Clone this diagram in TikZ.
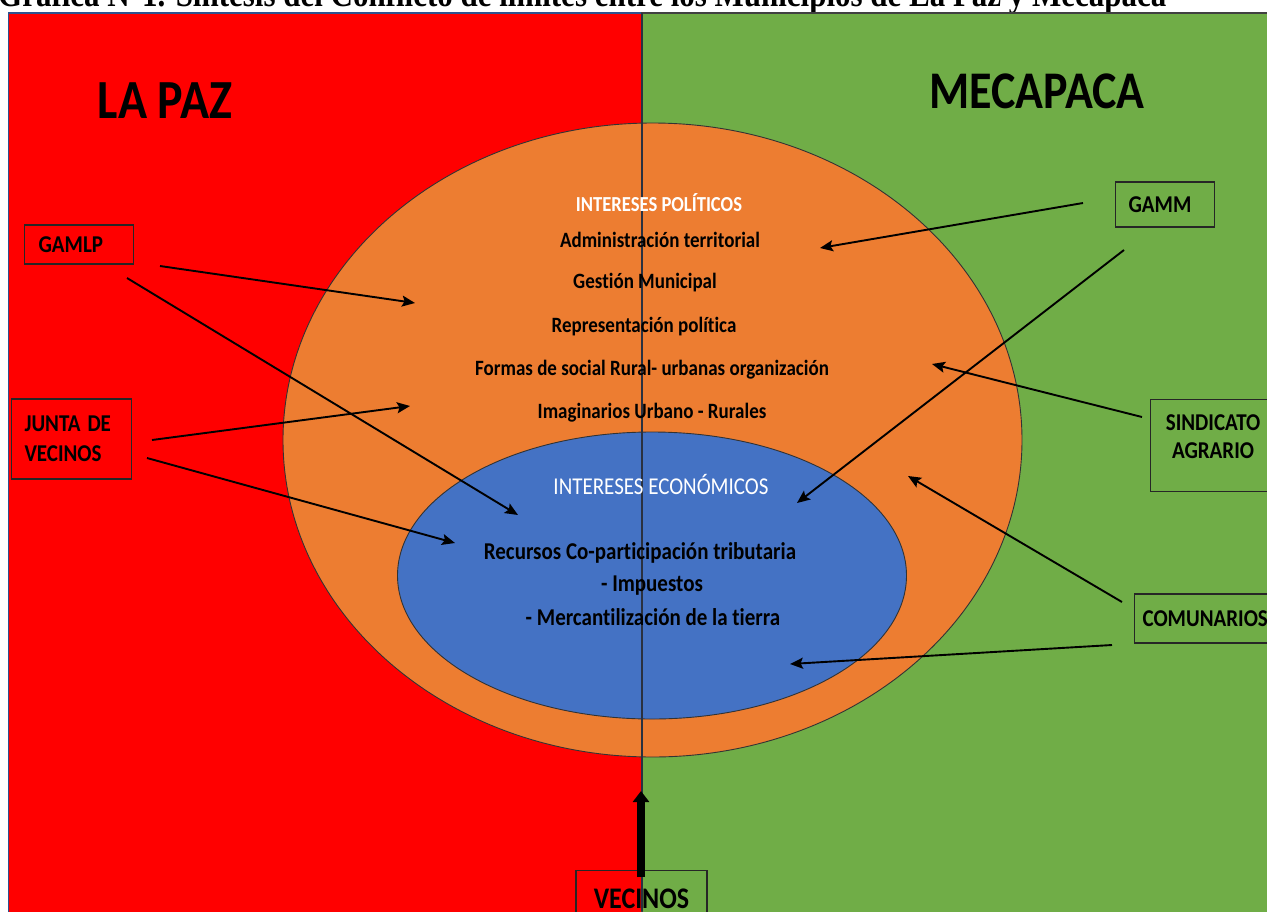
\documentclass[tikz,border=0pt]{standalone}
\usepackage{fontspec}
\setmainfont{Carlito}[Ligatures=NoCommon]
\newfontfamily\titlefont{Liberation Serif}
\usetikzlibrary{arrows.meta}
\definecolor{lpred}{HTML}{FF0000}
\definecolor{mcgreen}{HTML}{70AD47}
\definecolor{polorange}{HTML}{ED7D31}
\definecolor{ecoblue}{HTML}{4472C4}
\definecolor{edgeblue}{HTML}{2F528F}
\definecolor{darkline}{HTML}{2A3140}
\newcommand\vst[1]{\scalebox{1}[1.15]{#1}}
\tikzset{
  region/.style={line width=1.3pt},
  inner/.style={font=\bfseries\fontsize{19}{21}\selectfont, inner sep=0pt},
  innereco/.style={font=\bfseries\fontsize{21}{23}\selectfont, inner sep=0pt},
  innerhead/.style={text=white, inner sep=0pt},
  bigname/.style={font=\bfseries\fontsize{46}{50}\selectfont, inner sep=0pt},
  actor/.style={draw=black!85, line width=1.1pt, font=\bfseries\fontsize{21}{30}\selectfont, inner sep=0pt},
  arr/.style={line width=1.9pt, -{Stealth[length=13pt,width=11pt,inset=2.5pt]}},
  bigarr/.style={line width=8pt, -{Triangle[length=11pt,width=16pt]}}
}
\begin{document}
\begin{tikzpicture}[x=1pt,y=-1pt]
\useasboundingbox (0,0) rectangle (1267,911);
\clip (0,0) rectangle (1267,911);
\fill[white] (0,0) rectangle (1267,911);
% title (cut by the page top)
\node[anchor=base west, inner sep=0pt] (title) at (-2,6)
  {\resizebox{1168pt}{!}{\titlefont\bfseries\fontsize{26}{28}\selectfont\vst{Gráfica N°1. Síntesis del Conflicto de límites entre los Municipios de La Paz y Mecapaca}}};
% regions
\filldraw[region, fill=lpred, draw=edgeblue] (8.5,13) rectangle (642,930);
\filldraw[region, fill=mcgreen, draw=black!75] (642,13) rectangle (1280,930);
% ellipses
\filldraw[fill=polorange, draw=black!80, line width=0.9pt] (652.5,440) ellipse [x radius=369.5pt, y radius=317pt];
\filldraw[fill=ecoblue, draw=black!80, line width=0.9pt] (652,575.5) ellipse [x radius=254.5pt, y radius=143.5pt];
% dividing line
\draw[darkline, line width=1.2pt] (642,13) -- (642,911);
% region names
\node[bigname, font=\bfseries\fontsize{48}{50}\selectfont] (lapaz) at (165,101) {\vst{LA PAZ}};
\node[bigname] (mecapaca) at (1037,91) {\vst{MECAPACA}};
% political interests
\node[innerhead, font=\bfseries\fontsize{18.6}{20}\selectfont] (pol) at (659,203) {\vst{INTERESES POLÍTICOS}};
\node[inner] (t1) at (660,240) {\vst{Administración territorial}};
\node[inner] (t2) at (645,283) {\vst{Gestión Municipal}};
\node[inner] (t3) at (644,327) {\vst{Representación política}};
\node[inner] (t4) at (652,370) {\vst{Formas de social Rural- urbanas organización}};
\node[inner] (t5) at (652,413) {\vst{Imaginarios Urbano - Rurales}};
% economic interests
\node[innerhead, font=\fontsize{21}{23}\selectfont] (eco) at (661,484) {\vst{INTERESES ECONÓMICOS}};
\node[innereco] (e1) at (640,553) {\vst{Recursos Co-participación tributaria}};
\node[innereco] (e2) at (652,586) {\vst{- Impuestos}};
\node[innereco] (e3) at (653,617) {\vst{- Mercantilización de la tierra}};
% actors
\node[actor, anchor=west, minimum width=109pt, minimum height=39pt, text width=81pt, inner xsep=14pt, align=left] (gamlp) at (24,244.5) {\vst{GAMLP}};
\node[actor, anchor=west, minimum width=120pt, minimum height=80pt, text width=94pt, inner xsep=13pt, align=left] (junta) at (11,439) {\vst{JUNTA DE}\\\vst{VECINOS}};
\node[actor, anchor=west, minimum width=99pt, minimum height=45pt, text width=73pt, inner xsep=13pt, align=left] (gamm) at (1115,204.5) {\vst{GAMM}};
\node[actor, anchor=north west, inner sep=0pt] (sind) at (1150,399)
  {\parbox[c][92pt][t]{125pt}{\centering\vspace*{15pt}\vst{SINDICATO}\\[-2pt]\vst{AGRARIO}}};
\node[actor, anchor=west, minimum width=140pt, minimum height=49pt, text width=128pt, inner xsep=8pt, align=left] (comu) at (1134,618.5) {\vst{COMUNARIOS}};
\node[actor, anchor=north, minimum width=131pt, minimum height=56pt, font=\bfseries\fontsize{26}{30}\selectfont] (vec) at (641.5,870) {\vst{VECINOS}};
% arrow ends
\coordinate (gamlpA) at (160,266);   \coordinate (polA) at (415,303);
\coordinate (gamlpB) at (127,278);   \coordinate (ecoA) at (518,515);
\coordinate (juntaA) at (152,440);   \coordinate (polB) at (410,406);
\coordinate (juntaB) at (147,458);   \coordinate (ecoB) at (455,543);
\coordinate (gammA) at (1083,203);   \coordinate (polC) at (820,248);
\coordinate (gammB) at (1124,250);   \coordinate (ecoC) at (797,503);
\coordinate (sindA) at (1142,417);   \coordinate (polD) at (932,364);
\coordinate (comuA) at (1122,602);   \coordinate (polE) at (908,476);
\coordinate (comuB) at (1112,645);   \coordinate (ecoD) at (790,664);
\coordinate (vecA) at (641,877);     \coordinate (lineA) at (641,791);
% arrows
\draw[arr] (gamlpA) -- (polA);
\draw[arr] (gamlpB) -- (ecoA);
\draw[arr] (juntaA) -- (polB);
\draw[arr] (juntaB) -- (ecoB);
\draw[arr] (gammA) -- (polC);
\draw[arr] (gammB) -- (ecoC);
\draw[arr] (sindA) -- (polD);
\draw[arr] (comuA) -- (polE);
\draw[arr] (comuB) -- (ecoD);
\draw[bigarr] (vecA) -- (lineA);
\end{tikzpicture}
\end{document}
